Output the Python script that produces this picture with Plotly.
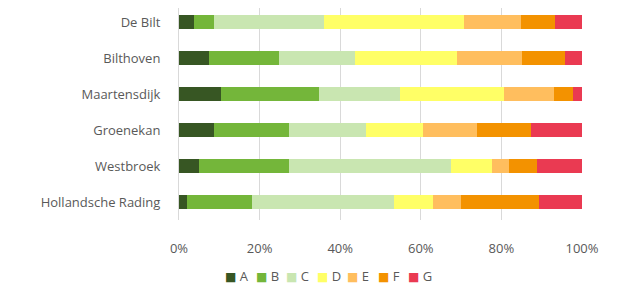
import plotly.graph_objects as go

places = ["De Bilt", "Bilthoven", "Maartensdijk", "Groenekan", "Westbroek", "Hollandsche Rading"]
labels = ["A", "B", "C", "D", "E", "F", "G"]
A = [3.7, 7.5, 10.3, 8.7, 5.0, 2.1]
B = [5.0, 17.2, 24.5, 18.7, 22.3, 15.9]
C = [27.4, 18.9, 20.0, 18.9, 40.3, 35.3]
D = [34.5, 25.5, 25.9, 14.2, 10.1, 9.8]
E = [14.3, 16.0, 12.3, 13.4, 4.1, 6.8]
F = [8.4, 10.6, 4.8, 13.5, 7.1, 19.5]
G = [6.7, 4.3, 2.2, 12.6, 11.1, 10.6]
series = [A, B, C, D, E, F, G]
colors = ["#375623", "#74B63A", "#C9E6B1", "#FFFF66", "#FFBE5E", "#F39200", "#EA3A52"]
ticks = [0, 20, 40, 60, 80, 100]
tick_text = ["0%", "20%", "40%", "60%", "80%", "100%"]

fig = go.Figure()
for name, vals, col in zip(labels, series, colors):
    fig.add_trace(go.Bar(
        y=places, x=vals, name=name, orientation="h",
        marker=dict(color=col, line=dict(width=0)),
        showlegend=False,
    ))

# Custom compact legend (text-based: coloured square glyph + label)
legend_x0 = 0.110
legend_step = 0.0756
for i, (name, col) in enumerate(zip(labels, colors)):
    fig.add_annotation(
        xref="paper", yref="paper",
        x=legend_x0 + i * legend_step, y=-0.262,
        xanchor="left", yanchor="middle", showarrow=False,
        text=f"<span style='color:{col};font-family:DejaVu Sans;font-size:12px'>■</span> {name}",
        font=dict(family="Open Sans", size=13, color="#595959"),
    )

font = "Open Sans"
fig.update_layout(
    barmode="stack",
    bargap=0.61,
    width=632, height=286,
    margin=dict(l=171, r=58, t=0, b=74, autoexpand=False),
    plot_bgcolor="white", paper_bgcolor="white",
    font=dict(family=font, size=13, color="#595959"),
    showlegend=False,
    xaxis=dict(
        range=[0, 100], tickvals=ticks, ticktext=tick_text,
        showgrid=True, gridcolor="#D9D9D9", gridwidth=1,
        zeroline=False, showline=False,
        ticks="outside", ticklen=16, tickcolor="rgba(0,0,0,0)",
        tickfont=dict(size=13, color="#595959"),
        fixedrange=True,
    ),
    yaxis=dict(
        range=[5.5, -0.39], showgrid=False, zeroline=False,
        showline=True, linecolor="#D9D9D9", linewidth=1,
        ticks="outside", ticklen=15, tickcolor="rgba(0,0,0,0)",
        tickfont=dict(size=13, color="#595959"),
        fixedrange=True,
    ),
)

fig.write_html("out.html")
